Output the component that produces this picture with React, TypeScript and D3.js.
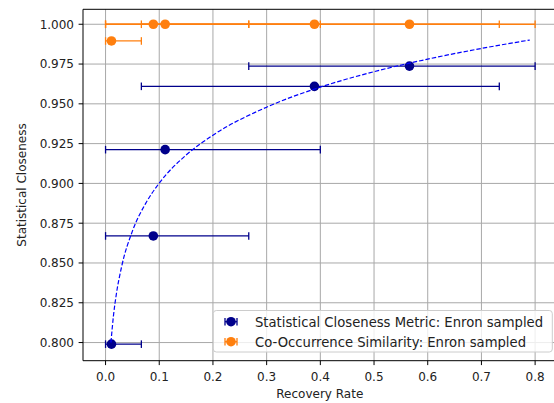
import { scaleLinear, line, curveMonotoneX } from "d3";

// recovery rate per point, with the low / high end of each error bar
const recovery = [0.011, 0.089, 0.111, 0.389, 0.566];
const recLow = [0.0, 0.0, 0.0, 0.0667, 0.2667];
const recHigh = [0.0667, 0.2667, 0.4, 0.7333, 0.8];

const closeness = [0.799, 0.867, 0.9212, 0.961, 0.9737];
const cooccurrence = [0.9895, 1.0, 1.0, 1.0, 1.0];

// dashed trend line
const trendX = [0.01, 0.015, 0.02, 0.03, 0.05, 0.075, 0.1, 0.15, 0.2, 0.3, 0.4, 0.5, 0.6, 0.7, 0.79];
const trendY = [0.8, 0.8177, 0.8302, 0.8478, 0.87, 0.8876, 0.9002, 0.9178, 0.9303, 0.9479, 0.9605, 0.9702, 0.9781, 0.9848, 0.9901];

const xTicks = [0, 0.1, 0.2, 0.3, 0.4, 0.5, 0.6, 0.7, 0.8];
const yTicks = [0.8, 0.825, 0.85, 0.875, 0.9, 0.925, 0.95, 0.975, 1.0];

const seriesNames = ["Statistical Closeness Metric: Enron sampled", "Co-Occurrence Similarity: Enron sampled"];
const seriesColors = ["#00008b", "#ff7f0e"];

const W = 554;
const H = 403;
const left = 83;
const right = 556.6;
const top = 9.3;
const bottom = 360.7;
const font = "DejaVu Sans, sans-serif";
const fs = 12;
const legendFs = 13.2;

export default function App() {
  const x = scaleLinear().domain([-0.042, 0.84]).range([left, right]);
  const y = scaleLinear().domain([0.7886, 1.0094]).range([bottom, top]);

  const trend = line<number>()
    .x((d) => x(d))
    .y((d, i) => y(trendY[i]))
    .curve(curveMonotoneX)(trendX);

  const series = [closeness, cooccurrence];

  return (
    <svg width={W} height={H} style={{ position: "fixed", left: 0, top: 0, background: "#fff" }} fontFamily={font}>
      {/* grid */}
      {xTicks.map((t) => (
        <line key={"gx" + t} x1={x(t)} x2={x(t)} y1={top} y2={bottom} stroke="#a8a8a8" strokeWidth={1} />
      ))}
      {yTicks.map((t) => (
        <line key={"gy" + t} x1={left} x2={right} y1={y(t)} y2={y(t)} stroke="#a8a8a8" strokeWidth={1} />
      ))}

      {/* error bars + points */}
      {series.map((vals, s) => (
        <g key={s} stroke={seriesColors[s]} fill={seriesColors[s]}>
          {vals.map((v, i) => (
            <g key={i}>
              <line x1={x(recLow[i])} x2={x(recHigh[i])} y1={y(v)} y2={y(v)} strokeWidth={1.3} />
              <line x1={x(recLow[i])} x2={x(recLow[i])} y1={y(v) - 3.8} y2={y(v) + 3.8} strokeWidth={1.3} />
              <line x1={x(recHigh[i])} x2={x(recHigh[i])} y1={y(v) - 3.8} y2={y(v) + 3.8} strokeWidth={1.3} />
              <circle cx={x(recovery[i])} cy={y(v)} r={4.8} stroke="none" />
            </g>
          ))}
        </g>
      ))}

      <path d={trend ?? ""} fill="none" stroke="#0000ff" strokeWidth={1.2} strokeDasharray="4.5 2" />

      {/* spines */}
      <line x1={left} x2={left} y1={top} y2={bottom} stroke="#000" strokeWidth={1} />
      <line x1={left} x2={right} y1={bottom} y2={bottom} stroke="#000" strokeWidth={1} />
      <line x1={left} x2={right} y1={top} y2={top} stroke="#000" strokeWidth={1} />

      {/* x axis */}
      {xTicks.map((t) => (
        <g key={"tx" + t}>
          <line x1={x(t)} x2={x(t)} y1={bottom} y2={bottom + 4.4} stroke="#000" />
          <text x={x(t)} y={bottom + 20.2} fontSize={fs} textAnchor="middle" fill="#222">
            {t.toFixed(1)}
          </text>
        </g>
      ))}
      {yTicks.map((t) => (
        <g key={"ty" + t}>
          <line x1={left - 4.4} x2={left} y1={y(t)} y2={y(t)} stroke="#000" />
          <text x={left - 9} y={y(t) + 4.4} fontSize={fs} textAnchor="end" fill="#222">
            {t.toFixed(3)}
          </text>
        </g>
      ))}
      <text x={(left + right) / 2} y={398.3} fontSize={fs} textAnchor="middle" fill="#222">
        Recovery Rate
      </text>
      <text transform={`translate(26,${(top + bottom) / 2}) rotate(-90)`} fontSize={fs} textAnchor="middle" fill="#222">
        Statistical Closeness
      </text>

      {/* legend */}
      <rect x={213.3} y={310.5} width={339} height={41.5} rx={3} fill="#fff" fillOpacity={0.8} stroke="#cccccc" />
      {seriesNames.map((name, s) => {
        const cy = 321.7 + s * 20;
        return (
          <g key={name}>
            <g stroke={seriesColors[s]} fill={seriesColors[s]}>
              <line x1={225} x2={237} y1={cy} y2={cy} strokeWidth={1.3} />
              <line x1={225} x2={225} y1={cy - 3.8} y2={cy + 3.8} strokeWidth={1.3} />
              <line x1={237} x2={237} y1={cy - 3.8} y2={cy + 3.8} strokeWidth={1.3} />
              <circle cx={231} cy={cy} r={4.8} stroke="none" />
            </g>
            <text x={255} y={cy + 4.8} fontSize={legendFs} fill="#222">
              {name}
            </text>
          </g>
        );
      })}
    </svg>
  );
}
